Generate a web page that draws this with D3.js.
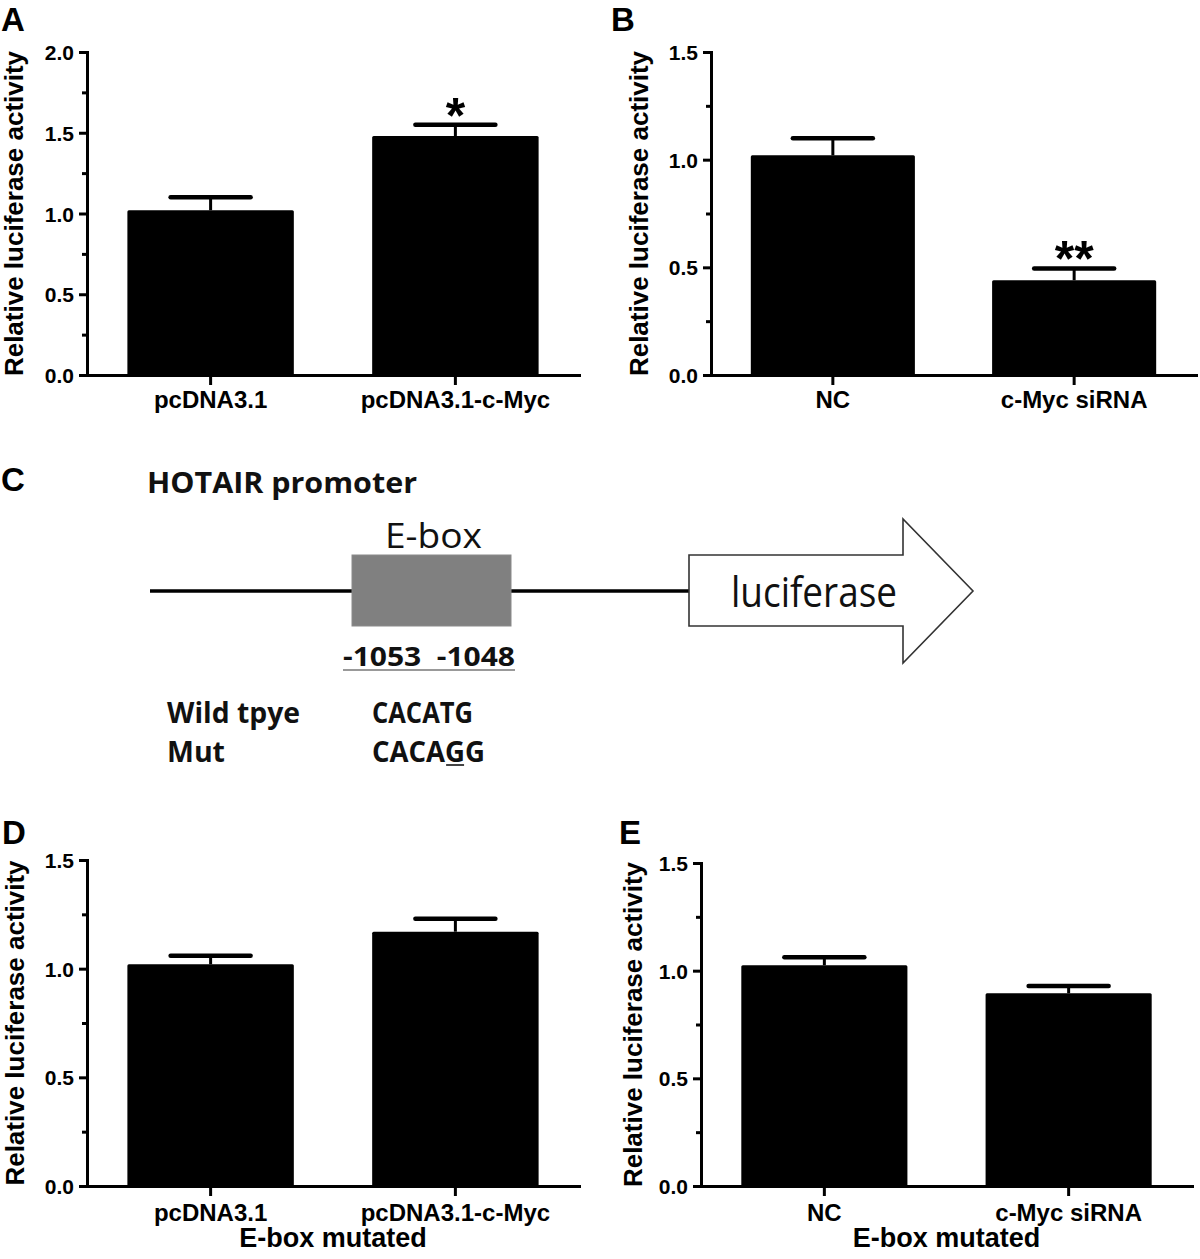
<!DOCTYPE html>
<html><head><meta charset="utf-8">
<script src="https://cdn.jsdelivr.net/npm/d3@7"></script>
<style>html,body{margin:0;padding:0;background:#fff}</style>
</head><body>
<svg id="fig" width="1200" height="1259" xmlns="http://www.w3.org/2000/svg"></svg>
<script>
// ---------- data ----------
const catsA = ["pcDNA3.1", "pcDNA3.1-c-Myc"];
const valsA = [1.02, 1.48];
const errA  = [0.08, 0.07];
const sigA  = ["", "*"];

const catsB = ["NC", "c-Myc siRNA"];
const valsB = [1.02, 0.44];
const errB  = [0.08, 0.055];
const sigB  = ["", "**"];

const catsD = ["pcDNA3.1", "pcDNA3.1-c-Myc"];
const valsD = [1.02, 1.17];
const errD  = [0.04, 0.06];
const sigD  = ["", ""];

const catsE = ["NC", "c-Myc siRNA"];
const valsE = [1.025, 0.895];
const errE  = [0.037, 0.034];
const sigE  = ["", ""];

const tickVals20 = [0, 0.5, 1.0, 1.5, 2.0];
const tickLabels20 = ["0.0", "0.5", "1.0", "1.5", "2.0"];
const tickVals15 = [0, 0.5, 1.0, 1.5];
const tickLabels15 = ["0.0", "0.5", "1.0", "1.5"];

const yTitle = "Relative luciferase activity";
const xTitleMut = "E-box mutated";

// diagram texts
const promoterTitle = "HOTAIR promoter";
const eboxLabel = "E-box";
const reporterLabel = "luciferase";
const positionLabel = "-1053  -1048";
const seqRowNames = ["Wild tpye", "Mut"];
const seqRowSeqs = ["CACATG", "CACAGG"];
const mutatedIndex = 4; // underlined base in Mut

// ---------- drawing ----------
const svg = d3.select("#fig");
svg.append("rect").attr("width", 1200).attr("height", 1259).attr("fill", "#fff");
const FONT = "'Liberation Sans', Arial, Helvetica, sans-serif";

function drawPanel(p) {
  const g = svg.append("g");
  const x = d3.scaleBand().domain(p.cats).range([p.x0, p.x1])
    .paddingInner(0.32).paddingOuter(0.165);
  const y = d3.scaleLinear().domain([0, p.yMax]).range([p.yBot, p.yTop]);

  // bars
  g.selectAll("rect.bar").data(p.vals).join("rect")
    .attr("class", "bar")
    .attr("x", (d, i) => x(p.cats[i]))
    .attr("width", x.bandwidth())
    .attr("y", d => y(d))
    .attr("height", d => y(0) - y(d))
    .attr("rx", 1.5)
    .attr("fill", "#000");

  // error bars
  p.vals.forEach((v, i) => {
    const cx = x(p.cats[i]) + x.bandwidth() / 2;
    g.append("line").attr("x1", cx).attr("x2", cx)
      .attr("y1", y(v)).attr("y2", y(v + p.errs[i]))
      .attr("stroke", "#000").attr("stroke-width", 3);
    g.append("line").attr("x1", cx - 40).attr("x2", cx + 40)
      .attr("y1", y(v + p.errs[i])).attr("y2", y(v + p.errs[i]))
      .attr("stroke", "#000").attr("stroke-width", 4.5).attr("stroke-linecap", "round");
    if (p.sig[i]) {
      g.append("text").attr("x", cx).attr("y", y(v + p.errs[i]) + p.sigOff)
        .attr("text-anchor", "middle").attr("font-family", FONT)
        .attr("font-weight", "bold").attr("font-size", 50)
        .text(p.sig[i]);
    }
  });

  // y axis, major
  const yAx = g.append("g").attr("transform", `translate(${p.x0},0)`)
    .call(d3.axisLeft(y).tickValues(p.tickVals).tickSize(8).tickSizeOuter(0)
      .tickPadding(5).tickFormat((d, i) => p.tickLabels[i]));
  // y axis, minor
  const minors = [];
  for (let k = 0; k < p.tickVals.length - 1; k++) minors.push((p.tickVals[k] + p.tickVals[k + 1]) / 2);
  const yMin = g.append("g").attr("transform", `translate(${p.x0},0)`)
    .call(d3.axisLeft(y).tickValues(minors).tickSize(5).tickFormat(""));
  yMin.select(".domain").remove();

  // x axis
  const xAx = g.append("g").attr("transform", `translate(0,${p.yBot})`)
    .call(d3.axisBottom(x).tickSize(10).tickSizeOuter(0));
  xAx.selectAll("text").attr("y", p.xLabOff).attr("dy", 0);

  [yAx, yMin, xAx].forEach(a => {
    a.selectAll(".domain").attr("stroke", "#000").attr("stroke-width", 3).attr("stroke-linecap", "square");
    a.selectAll(".tick line").attr("stroke", "#000").attr("stroke-width", 3);
    a.selectAll("text").attr("font-family", FONT).attr("font-weight", "bold").attr("fill", "#000");
  });
  yAx.selectAll("text").attr("font-size", 21).attr("dy", "0.36em");
  xAx.selectAll("text").attr("font-size", 24);

  // y title
  const cy = (p.yTop + p.yBot) / 2;
  g.append("text").attr("transform", `translate(${p.titleX},${cy}) rotate(-90)`)
    .attr("text-anchor", "middle").attr("font-family", FONT)
    .attr("font-weight", "bold").attr("font-size", 26).text(yTitle);

  if (p.xTitle) {
    g.append("text").attr("x", (p.x0 + p.x1) / 2).attr("y", p.yBot + 61)
      .attr("text-anchor", "middle").attr("font-family", FONT)
      .attr("font-weight", "bold").attr("font-size", 27).text(p.xTitle);
  }

  // panel letter
  g.append("text").attr("x", p.lx).attr("y", p.ly).attr("font-family", FONT)
    .attr("font-weight", "bold").attr("font-size", 33).text(p.letter);
}

drawPanel({letter: "A", lx: 1, ly: 31, cats: catsA, vals: valsA, errs: errA, sig: sigA,
  tickVals: tickVals20, tickLabels: tickLabels20, yMax: 2.0,
  x0: 87, x1: 579, yTop: 52, yBot: 375, titleX: 23, xLabOff: 33, sigOff: 8});
drawPanel({letter: "B", lx: 611, ly: 31, cats: catsB, vals: valsB, errs: errB, sig: sigB,
  tickVals: tickVals15, tickLabels: tickLabels15, yMax: 1.5,
  x0: 711, x1: 1196, yTop: 52, yBot: 375, titleX: 648, xLabOff: 33, sigOff: 8});
drawPanel({letter: "D", lx: 2, ly: 844, cats: catsD, vals: valsD, errs: errD, sig: sigD,
  tickVals: tickVals15, tickLabels: tickLabels15, yMax: 1.5,
  x0: 87, x1: 579, yTop: 860, yBot: 1186, titleX: 24, xLabOff: 35, sigOff: 8, xTitle: xTitleMut});
drawPanel({letter: "E", lx: 619, ly: 844, cats: catsE, vals: valsE, errs: errE, sig: sigE,
  tickVals: tickVals15, tickLabels: tickLabels15, yMax: 1.5,
  x0: 701, x1: 1192, yTop: 863, yBot: 1186, titleX: 642, xLabOff: 35, sigOff: 8, xTitle: xTitleMut});

// ---------- panel C diagram ----------
const c = svg.append("g");
const CF = "'Open Sans', 'Noto Sans', sans-serif";
c.append("text").attr("x", 1).attr("y", 491).attr("font-family", FONT)
  .attr("font-weight", "bold").attr("font-size", 33).text("C");

function ctext(t, x, y, size, weight, len) {
  return c.append("text").attr("x", x).attr("y", y).attr("font-family", CF)
    .attr("font-size", size).attr("font-weight", weight)
    .attr("textLength", len).attr("lengthAdjust", "spacingAndGlyphs")
    .style("white-space", "pre").attr("fill", "#111").text(t);
}
ctext(promoterTitle, 147, 493, 28, 700, 270);

// DNA line
c.append("line").attr("x1", 150).attr("x2", 352).attr("y1", 591).attr("y2", 591)
  .attr("stroke", "#000").attr("stroke-width", 3.5);
c.append("line").attr("x1", 511).attr("x2", 689).attr("y1", 591).attr("y2", 591)
  .attr("stroke", "#000").attr("stroke-width", 3.5);
// E-box
c.append("rect").attr("x", 352).attr("y", 555).attr("width", 159).attr("height", 71)
  .attr("fill", "#808080").attr("stroke", "#8a8a8a").attr("stroke-width", 1);
ctext(eboxLabel, 385, 548, 34, 400, 97);
// arrow
const arrowPts = [[689,555],[903,555],[903,519],[973,591],[903,663],[903,626],[689,626]];
c.append("path").attr("d", d3.line()(arrowPts) + "Z")
  .attr("fill", "#fff").attr("stroke", "#333").attr("stroke-width", 1.6)
  .attr("stroke-linejoin", "miter");
ctext(reporterLabel, 731, 607, 42, 400, 166);
// positions
ctext(positionLabel, 343, 666, 27, 700, 172);
c.append("line").attr("x1", 343).attr("x2", 515).attr("y1", 670).attr("y2", 670)
  .attr("stroke", "#999").attr("stroke-width", 2);
// sequences
const rowY = [723, 762];
const nameLen = [133, 58];
const seqLen = [101, 113];
seqRowNames.forEach((n, i) => {
  ctext(n, 167, rowY[i], 28, 700, nameLen[i]);
  const s = ctext(seqRowSeqs[i], 372, rowY[i], 28, 700, seqLen[i]);
  if (i === 1) {
    const node = s.node();
    const st = node.getStartPositionOfChar(mutatedIndex).x;
    const en = node.getEndPositionOfChar(mutatedIndex).x;
    c.append("line").attr("x1", st + 1).attr("x2", en - 1)
      .attr("y1", rowY[i] + 3).attr("y2", rowY[i] + 3)
      .attr("stroke", "#444").attr("stroke-width", 2);
  }
});
</script>
</body></html>
